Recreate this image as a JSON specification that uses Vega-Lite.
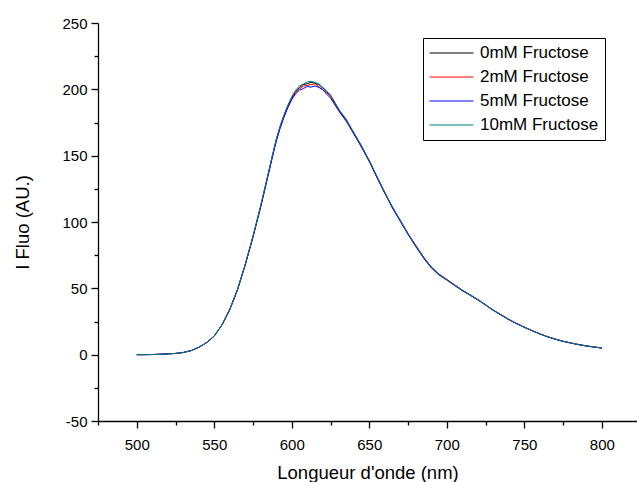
{
  "$schema": "https://vega.github.io/schema/vega-lite/v6.json",
  "width": 539,
  "height": 398,
  "autosize": "none",
  "padding": {"left": 98, "top": 23, "right": 0, "bottom": 61},
  "background": "white",
  "config": {
    "view": {"stroke": null},
    "font": "Liberation Sans",
    "axis": {"grid": false, "domainColor": "black", "tickColor": "black", "labelColor": "black", "titleColor": "black", "labelFont": "Liberation Sans", "titleFont": "Liberation Sans", "titleFontWeight": "normal", "domainWidth": 1.3, "tickWidth": 1.3}
  },
  "data": {"values": [
    {"x":500,"0mM Fructose":0,"2mM Fructose":0,"5mM Fructose":0,"10mM Fructose":0},
    {"x":505,"0mM Fructose":0,"2mM Fructose":0.1,"5mM Fructose":0,"10mM Fructose":0},
    {"x":510,"0mM Fructose":0.1,"2mM Fructose":0.1,"5mM Fructose":0.1,"10mM Fructose":0.1},
    {"x":515,"0mM Fructose":0.3,"2mM Fructose":0.3,"5mM Fructose":0.3,"10mM Fructose":0.3},
    {"x":520,"0mM Fructose":0.6,"2mM Fructose":0.6,"5mM Fructose":0.6,"10mM Fructose":0.6},
    {"x":525,"0mM Fructose":0.9,"2mM Fructose":1,"5mM Fructose":0.9,"10mM Fructose":0.9},
    {"x":530,"0mM Fructose":1.6,"2mM Fructose":1.6,"5mM Fructose":1.7,"10mM Fructose":1.6},
    {"x":535,"0mM Fructose":3,"2mM Fructose":3.1,"5mM Fructose":3,"10mM Fructose":3},
    {"x":540,"0mM Fructose":5.5,"2mM Fructose":5.5,"5mM Fructose":5.6,"10mM Fructose":5.5},
    {"x":545,"0mM Fructose":9,"2mM Fructose":9.1,"5mM Fructose":9,"10mM Fructose":9.1},
    {"x":550,"0mM Fructose":14,"2mM Fructose":14.2,"5mM Fructose":14,"10mM Fructose":14.1},
    {"x":555,"0mM Fructose":22.5,"2mM Fructose":22.6,"5mM Fructose":22.4,"10mM Fructose":22.5},
    {"x":560,"0mM Fructose":34,"2mM Fructose":34.2,"5mM Fructose":33.8,"10mM Fructose":34.1},
    {"x":565,"0mM Fructose":49,"2mM Fructose":49.3,"5mM Fructose":48.8,"10mM Fructose":49.2},
    {"x":570,"0mM Fructose":68,"2mM Fructose":68.2,"5mM Fructose":67.6,"10mM Fructose":68.3},
    {"x":575,"0mM Fructose":89,"2mM Fructose":89.4,"5mM Fructose":88.6,"10mM Fructose":89.3},
    {"x":580,"0mM Fructose":112,"2mM Fructose":112.5,"5mM Fructose":111.4,"10mM Fructose":112.6},
    {"x":585,"0mM Fructose":137,"2mM Fructose":137.4,"5mM Fructose":136.2,"10mM Fructose":137.5},
    {"x":587.5,"0mM Fructose":149.6,"2mM Fructose":150.2,"5mM Fructose":148.8,"10mM Fructose":150.2},
    {"x":590,"0mM Fructose":162,"2mM Fructose":161.6,"5mM Fructose":160.8,"10mM Fructose":162.6},
    {"x":592.5,"0mM Fructose":171.6,"2mM Fructose":172,"5mM Fructose":170.6,"10mM Fructose":172.4},
    {"x":595,"0mM Fructose":180,"2mM Fructose":180.4,"5mM Fructose":179,"10mM Fructose":181},
    {"x":597.5,"0mM Fructose":187.6,"2mM Fructose":187,"5mM Fructose":186.2,"10mM Fructose":188.2},
    {"x":600,"0mM Fructose":193.6,"2mM Fructose":193,"5mM Fructose":192.4,"10mM Fructose":194.6},
    {"x":602.5,"0mM Fructose":198.2,"2mM Fructose":197.6,"5mM Fructose":196.6,"10mM Fructose":199.4},
    {"x":605,"0mM Fructose":201.4,"2mM Fructose":200.2,"5mM Fructose":199.4,"10mM Fructose":202.6},
    {"x":607.5,"0mM Fructose":203.6,"2mM Fructose":202.4,"5mM Fructose":200.6,"10mM Fructose":204},
    {"x":610,"0mM Fructose":204.2,"2mM Fructose":203,"5mM Fructose":202.2,"10mM Fructose":205.6},
    {"x":612.5,"0mM Fructose":205.4,"2mM Fructose":203.6,"5mM Fructose":201.6,"10mM Fructose":206},
    {"x":615,"0mM Fructose":204.4,"2mM Fructose":204.2,"5mM Fructose":202.6,"10mM Fructose":205.2},
    {"x":617.5,"0mM Fructose":203.6,"2mM Fructose":202,"5mM Fructose":201.4,"10mM Fructose":204},
    {"x":620,"0mM Fructose":201,"2mM Fructose":199.6,"5mM Fructose":199.8,"10mM Fructose":201.6},
    {"x":622.5,"0mM Fructose":198.2,"2mM Fructose":197.4,"5mM Fructose":196.4,"10mM Fructose":198.8},
    {"x":625,"0mM Fructose":195,"2mM Fructose":195.2,"5mM Fructose":193.4,"10mM Fructose":195.8},
    {"x":627.5,"0mM Fructose":190.2,"2mM Fructose":189.4,"5mM Fructose":189,"10mM Fructose":191},
    {"x":630,"0mM Fructose":185.2,"2mM Fructose":185.8,"5mM Fructose":184.2,"10mM Fructose":185.6},
    {"x":632.5,"0mM Fructose":181,"2mM Fructose":180.4,"5mM Fructose":180.2,"10mM Fructose":181.6},
    {"x":635,"0mM Fructose":177,"2mM Fructose":177.4,"5mM Fructose":176.2,"10mM Fructose":177.8},
    {"x":637.5,"0mM Fructose":172,"2mM Fructose":171.4,"5mM Fructose":171.6,"10mM Fructose":172.6},
    {"x":640,"0mM Fructose":167,"2mM Fructose":167.6,"5mM Fructose":166.2,"10mM Fructose":167.4},
    {"x":645,"0mM Fructose":157,"2mM Fructose":156.4,"5mM Fructose":156.6,"10mM Fructose":157.6},
    {"x":650,"0mM Fructose":146,"2mM Fructose":146.6,"5mM Fructose":145.4,"10mM Fructose":146.2},
    {"x":655,"0mM Fructose":134,"2mM Fructose":133.6,"5mM Fructose":133.4,"10mM Fructose":134.4},
    {"x":660,"0mM Fructose":122,"2mM Fructose":122.6,"5mM Fructose":121.6,"10mM Fructose":122.2},
    {"x":665,"0mM Fructose":111,"2mM Fructose":110.4,"5mM Fructose":110.6,"10mM Fructose":111.4},
    {"x":670,"0mM Fructose":101,"2mM Fructose":101.4,"5mM Fructose":100.4,"10mM Fructose":101.2},
    {"x":675,"0mM Fructose":91,"2mM Fructose":91.4,"5mM Fructose":90.6,"10mM Fructose":91.2},
    {"x":680,"0mM Fructose":82,"2mM Fructose":82.4,"5mM Fructose":81.4,"10mM Fructose":82.2},
    {"x":685,"0mM Fructose":73.4,"2mM Fructose":73.6,"5mM Fructose":72.8,"10mM Fructose":73.6},
    {"x":690,"0mM Fructose":66,"2mM Fructose":65.8,"5mM Fructose":65.4,"10mM Fructose":66.2},
    {"x":695,"0mM Fructose":60.6,"2mM Fructose":60.8,"5mM Fructose":60,"10mM Fructose":60.6},
    {"x":700,"0mM Fructose":56.5,"2mM Fructose":56.8,"5mM Fructose":56.2,"10mM Fructose":56.6},
    {"x":705,"0mM Fructose":52.5,"2mM Fructose":52.8,"5mM Fructose":52.2,"10mM Fructose":52.6},
    {"x":710,"0mM Fructose":48.5,"2mM Fructose":48.6,"5mM Fructose":48.2,"10mM Fructose":48.7},
    {"x":715,"0mM Fructose":45,"2mM Fructose":45.2,"5mM Fructose":44.8,"10mM Fructose":45.1},
    {"x":720,"0mM Fructose":41.5,"2mM Fructose":41.6,"5mM Fructose":41.2,"10mM Fructose":41.6},
    {"x":725,"0mM Fructose":37.5,"2mM Fructose":37.7,"5mM Fructose":37.4,"10mM Fructose":37.6},
    {"x":730,"0mM Fructose":33.5,"2mM Fructose":33.6,"5mM Fructose":33.3,"10mM Fructose":33.6},
    {"x":735,"0mM Fructose":30,"2mM Fructose":30.2,"5mM Fructose":29.8,"10mM Fructose":30.1},
    {"x":740,"0mM Fructose":26.5,"2mM Fructose":26.6,"5mM Fructose":26.3,"10mM Fructose":26.6},
    {"x":745,"0mM Fructose":23.5,"2mM Fructose":23.6,"5mM Fructose":23.3,"10mM Fructose":23.5},
    {"x":750,"0mM Fructose":20.7,"2mM Fructose":20.8,"5mM Fructose":20.6,"10mM Fructose":20.8},
    {"x":755,"0mM Fructose":18.1,"2mM Fructose":18.2,"5mM Fructose":18,"10mM Fructose":18.1},
    {"x":760,"0mM Fructose":15.7,"2mM Fructose":15.8,"5mM Fructose":15.6,"10mM Fructose":15.7},
    {"x":765,"0mM Fructose":13.5,"2mM Fructose":13.6,"5mM Fructose":13.4,"10mM Fructose":13.5},
    {"x":770,"0mM Fructose":11.7,"2mM Fructose":11.8,"5mM Fructose":11.6,"10mM Fructose":11.7},
    {"x":775,"0mM Fructose":10.1,"2mM Fructose":10.2,"5mM Fructose":10,"10mM Fructose":10.1},
    {"x":780,"0mM Fructose":8.8,"2mM Fructose":8.9,"5mM Fructose":8.7,"10mM Fructose":8.8},
    {"x":785,"0mM Fructose":7.6,"2mM Fructose":7.7,"5mM Fructose":7.5,"10mM Fructose":7.6},
    {"x":790,"0mM Fructose":6.6,"2mM Fructose":6.7,"5mM Fructose":6.5,"10mM Fructose":6.6},
    {"x":795,"0mM Fructose":5.8,"2mM Fructose":5.8,"5mM Fructose":5.7,"10mM Fructose":5.8},
    {"x":800,"0mM Fructose":5,"2mM Fructose":5.1,"5mM Fructose":5,"10mM Fructose":5}
  ]},
  "transform": [
    {"fold": ["0mM Fructose", "2mM Fructose", "5mM Fructose", "10mM Fructose"], "as": ["series", "value"]}
  ],
  "layer": [
    {
      "mark": {"type": "line", "strokeWidth": 1, "clip": true},
      "encoding": {
        "x": {"field": "x", "type": "quantitative", "scale": {"domain": [475, 822.7], "nice": false, "zero": false},
          "axis": {"orient": "bottom", "values": [500, 550, 600, 650, 700, 750, 800], "tickSize": 7, "labelFontSize": 15, "labelPadding": 9, "title": "Longueur d'onde (nm)", "titleFontSize": 18.5, "titlePadding": 11}},
        "y": {"field": "value", "type": "quantitative", "scale": {"domain": [-50, 250], "nice": false, "zero": false},
          "axis": {"orient": "left", "values": [-50, 0, 50, 100, 150, 200, 250], "tickSize": 7, "labelFontSize": 15, "labelPadding": 4, "labelExpr": "'' + datum.value", "title": "I Fluo (AU.)", "titleFontSize": 18.5, "titlePadding": 29}},
        "color": {"field": "series", "type": "nominal",
          "scale": {"domain": ["0mM Fructose", "2mM Fructose", "5mM Fructose", "10mM Fructose"], "range": ["#000000", "#ff0000", "#0000ff", "#008080"]},
          "legend": {"title": null, "orient": "none", "legendX": 325, "legendY": 15, "symbolType": "stroke", "symbolSize": 1936, "symbolStrokeWidth": 1, "clipHeight": 18, "rowPadding": 6, "padding": 6, "strokeColor": "black", "labelFontSize": 17, "labelFont": "Liberation Sans", "labelColor": "black", "labelOffset": 6}}
      }
    },
    {
      "mark": {"type": "line", "strokeWidth": 1, "opacity": 0},
      "encoding": {
        "x": {"field": "x", "type": "quantitative", "axis": {"orient": "bottom", "values": [475, 525, 575, 625, 675, 725, 775], "tickSize": 4, "labels": false, "domain": false, "title": null}},
        "y": {"field": "value", "type": "quantitative", "axis": {"orient": "left", "values": [-25, 25, 75, 125, 175, 225], "tickSize": 4, "labels": false, "domain": false, "title": null}},
        "detail": {"field": "series"}
      }
    }
  ],
  "resolve": {"axis": {"x": "independent", "y": "independent"}}
}
